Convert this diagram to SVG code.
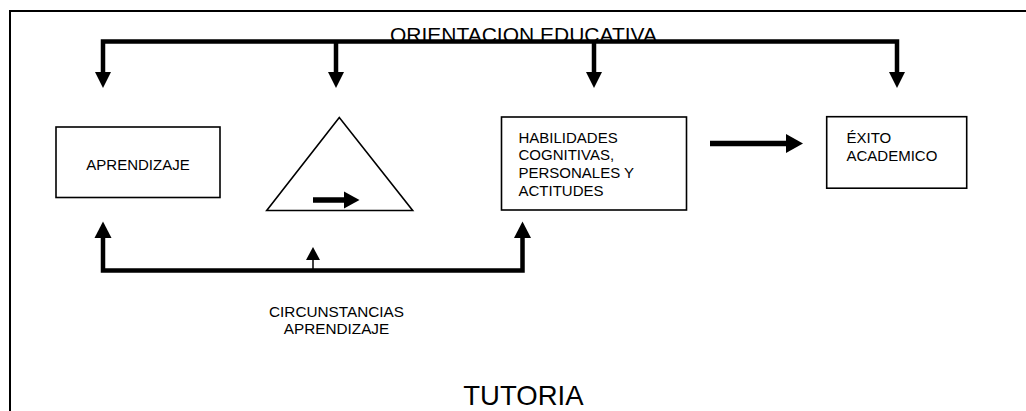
<svg xmlns="http://www.w3.org/2000/svg" width="1026" height="411" viewBox="0 0 1026 411">
<style>
.box{fill:#fff;stroke:#000;stroke-width:1.6}
.bus{fill:none;stroke:#000;stroke-width:4.5;stroke-linejoin:miter}
.t{font-family:"Liberation Sans",Arial,sans-serif;fill:#000}
.head{fill:#000}
</style>
<rect width="1026" height="411" fill="#fff"/>
<path d="M10,412 V11 H1027" fill="none" stroke="#000" stroke-width="2"/>
<text class="t" x="390" y="41.5" font-size="20.5" textLength="267" lengthAdjust="spacingAndGlyphs">ORIENTACION EDUCATIVA</text>
<g id="connectors">
  <path class="bus" d="M103,73 V41.5 H897 V73"/>
  <path class="bus" d="M336,41.5 V73 M594,41.5 V73"/>
  <polygon class="head" points="95,72 111,72 103,88"/>
  <polygon class="head" points="328,72 344,72 336,88"/>
  <polygon class="head" points="586,72 602,72 594,88"/>
  <polygon class="head" points="889,72 905,72 897,88"/>
  <path class="bus" d="M103,236 V270.5 H522.5 V236"/>
  <polygon class="head" points="94.5,238 111.5,238 103,221.5"/>
  <polygon class="head" points="514,238 531,238 522.5,221.5"/>
  <line x1="313" y1="270" x2="313" y2="258" stroke="#000" stroke-width="1.5"/>
  <polygon class="head" points="306,260 320,260 313,247"/>
  <line x1="710" y1="143.5" x2="789" y2="143.5" stroke="#000" stroke-width="5.5"/>
  <polygon class="head" points="786,134 786,153 803,143.5"/>
</g>
<g id="aprendizaje">
  <rect class="box" x="56" y="127" width="164" height="70.5"/>
  <text class="t" x="138" y="170" font-size="15" text-anchor="middle">APRENDIZAJE</text>
</g>
<g id="triangulo">
  <polygon points="339.3,117.5 266.7,210.5 412.7,210.5" fill="#fff" stroke="#000" stroke-width="1.6"/>
  <line x1="313" y1="200" x2="347" y2="200" stroke="#000" stroke-width="5.5"/>
  <polygon class="head" points="344,191.5 344,208.5 359.5,200"/>
</g>
<g id="habilidades">
  <rect class="box" x="501.5" y="117" width="185" height="93"/>
  <text class="t" font-size="15"><tspan x="518.5" y="142.7">HABILIDADES</tspan><tspan x="518.5" y="160.3">COGNITIVAS,</tspan><tspan x="518.5" y="178.2">PERSONALES Y</tspan><tspan x="518.5" y="196">ACTITUDES</tspan></text>
</g>
<g id="exito">
  <rect class="box" x="826.7" y="116.7" width="140" height="71.5"/>
  <text class="t" font-size="15"><tspan x="846.5" y="143.3">ÉXITO</tspan><tspan x="846.5" y="160.7">ACADEMICO</tspan></text>
</g>
<g id="circunstancias">
  <text class="t" font-size="15.3" text-anchor="middle"><tspan x="336.5" y="316.7">CIRCUNSTANCIAS</tspan><tspan x="336.5" y="334">APRENDIZAJE</tspan></text>
</g>
<g id="tutoria">
  <text class="t" x="463.3" y="405" font-size="27.5">TUTORIA</text>
</g>
</svg>
